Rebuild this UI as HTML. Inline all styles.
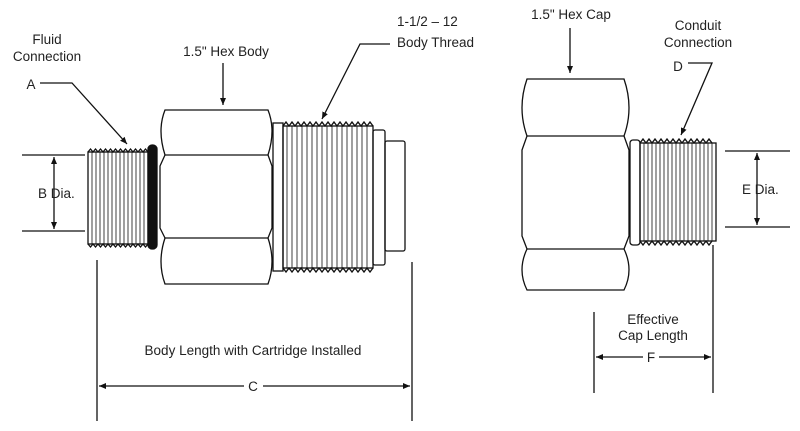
<!DOCTYPE html>
<html><head><meta charset="utf-8"><style>
html,body{margin:0;padding:0;background:#fff}
svg{display:block}
text{font-family:"Liberation Sans",sans-serif;font-size:13.5px;fill:#222}
</style></head><body>
<svg width="800" height="431" viewBox="0 0 800 431" xmlns="http://www.w3.org/2000/svg">
<defs>
<marker id="ah" markerWidth="8" markerHeight="8" refX="7" refY="4" orient="auto" markerUnits="userSpaceOnUse">
<path d="M0,1 L7,4 L0,7 Z" fill="#111"/></marker>
</defs>
<g stroke="#111" stroke-width="1.3" fill="none">
<rect x="88" y="152" width="60" height="92" />
<path d="M88,152 l2.5,-3 l2.5,3 l2.5,-3 l2.5,3 l2.5,-3 l2.5,3 l2.5,-3 l2.5,3 l2.5,-3 l2.5,3 l2.5,-3 l2.5,3 l2.5,-3 l2.5,3 l2.5,-3 l2.5,3 l2.5,-3 l2.5,3 l2.5,-3 l2.5,3 l2.5,-3 l2.5,3 l2.5,-3 l2.5,3"/>
<path d="M88,244 l2.5,3 l2.5,-3 l2.5,3 l2.5,-3 l2.5,3 l2.5,-3 l2.5,3 l2.5,-3 l2.5,3 l2.5,-3 l2.5,3 l2.5,-3 l2.5,3 l2.5,-3 l2.5,3 l2.5,-3 l2.5,3 l2.5,-3 l2.5,3 l2.5,-3 l2.5,3 l2.5,-3 l2.5,3 l2.5,-3"/>
<g stroke-width="0.8">
<path d="M92,152V244M96,152V244M100,152V244M104,152V244M108,152V244M112,152V244M116,152V244M120,152V244M124,152V244M128,152V244M132,152V244M136,152V244M140,152V244M144,152V244"/>
</g>
<rect x="148" y="145" width="9" height="104" rx="4" fill="#111"/>
<path d="M165,110 H268 Q276,130 268,155 L272,166 L272,228 L268,238 Q276,262 268,284 H165 Q157,262 165,238 L160,228 L160,166 L165,155 Q157,130 165,110 Z"/>
<path d="M165,155 H268 M165,238 H268"/>
<rect x="273" y="123" width="10" height="148"/>
<rect x="283" y="126" width="90" height="142"/>
<path d="M283,126 l3,-4 l3,4 l3,-4 l3,4 l3,-4 l3,4 l3,-4 l3,4 l3,-4 l3,4 l3,-4 l3,4 l3,-4 l3,4 l3,-4 l3,4 l3,-4 l3,4 l3,-4 l3,4 l3,-4 l3,4 l3,-4 l3,4 l3,-4 l3,4 l3,-4 l3,4 l3,-4 l3,4"/>
<path d="M283,268 l3,4 l3,-4 l3,4 l3,-4 l3,4 l3,-4 l3,4 l3,-4 l3,4 l3,-4 l3,4 l3,-4 l3,4 l3,-4 l3,4 l3,-4 l3,4 l3,-4 l3,4 l3,-4 l3,4 l3,-4 l3,4 l3,-4 l3,4 l3,-4 l3,4 l3,-4 l3,4 l3,-4"/>
<g stroke-width="0.8">
<path d="M287,126V268M292,126V268M297,126V268M302,126V268M307,126V268M312,126V268M317,126V268M322,126V268M327,126V268M332,126V268M337,126V268M342,126V268M347,126V268M352,126V268M357,126V268M362,126V268M367,126V268"/>
</g>
<rect x="373" y="130" width="12" height="135" rx="2"/>
<rect x="385" y="141" width="20" height="110" rx="2"/>
<path d="M22,155 H85 M22,231 H85"/>
<path d="M54,193 V157" marker-end="url(#ah)"/>
<path d="M54,193 V229" marker-end="url(#ah)"/>
<path d="M40,83 H72 L127,144" marker-end="url(#ah)"/>
<path d="M223,63 V105" marker-end="url(#ah)"/>
<path d="M390,44 H360 L322,119" marker-end="url(#ah)"/>
<path d="M97,260 V421 M412,262 V421"/>
<path d="M244,386 H99" marker-end="url(#ah)"/>
<path d="M263,386 H410" marker-end="url(#ah)"/>
<path d="M527,79 H624 Q634,108 624,136 L629,150 L629,236 L624,249 Q634,270 624,290 H527 Q517,270 527,249 L522,236 L522,150 L527,136 Q517,108 527,79 Z"/>
<path d="M527,136 H624 M527,249 H624"/>
<rect x="630" y="140" width="10" height="105" rx="3"/>
<rect x="640" y="143" width="76" height="98"/>
<path d="M640,143 l3,-4 l3,4 l3,-4 l3,4 l3,-4 l3,4 l3,-4 l3,4 l3,-4 l3,4 l3,-4 l3,4 l3,-4 l3,4 l3,-4 l3,4 l3,-4 l3,4 l3,-4 l3,4 l3,-4 l3,4 l3,-4 l3,4"/>
<path d="M640,241 l3,4 l3,-4 l3,4 l3,-4 l3,4 l3,-4 l3,4 l3,-4 l3,4 l3,-4 l3,4 l3,-4 l3,4 l3,-4 l3,4 l3,-4 l3,4 l3,-4 l3,4 l3,-4 l3,4 l3,-4 l3,4 l3,-4"/>
<g stroke-width="0.8">
<path d="M644,143V241M648,143V241M652,143V241M656,143V241M660,143V241M664,143V241M668,143V241M672,143V241M676,143V241M680,143V241M684,143V241M688,143V241M692,143V241M696,143V241M700,143V241M704,143V241M708,143V241M712,143V241"/>
</g>
<path d="M570,28 V73" marker-end="url(#ah)"/>
<path d="M688,63 H712 L681,135" marker-end="url(#ah)"/>
<path d="M725,151 H790 M725,227 H790"/>
<path d="M757,189 V153" marker-end="url(#ah)"/>
<path d="M757,189 V225" marker-end="url(#ah)"/>
<path d="M594,312 V393 M713,245 V393"/>
<path d="M643,357 H596" marker-end="url(#ah)"/>
<path d="M659,357 H711" marker-end="url(#ah)"/>
</g>
<text x="47" y="44" text-anchor="middle">Fluid</text>
<text x="47" y="61" text-anchor="middle">Connection</text>
<text x="31" y="89" text-anchor="middle">A</text>
<text x="38" y="198">B Dia.</text>
<text x="226" y="56" text-anchor="middle">1.5" Hex Body</text>
<text x="397" y="26">1-1/2 – 12</text>
<text x="397" y="47">Body Thread</text>
<text x="253" y="355" text-anchor="middle">Body Length with Cartridge Installed</text>
<text x="253" y="391" text-anchor="middle">C</text>
<text x="571" y="19" text-anchor="middle">1.5" Hex Cap</text>
<text x="698" y="30" text-anchor="middle">Conduit</text>
<text x="698" y="47" text-anchor="middle">Connection</text>
<text x="678" y="71" text-anchor="middle">D</text>
<text x="742" y="194">E Dia.</text>
<text x="653" y="324" text-anchor="middle">Effective</text>
<text x="653" y="340" text-anchor="middle">Cap Length</text>
<text x="651" y="362" text-anchor="middle">F</text>
</svg>
</body></html>
